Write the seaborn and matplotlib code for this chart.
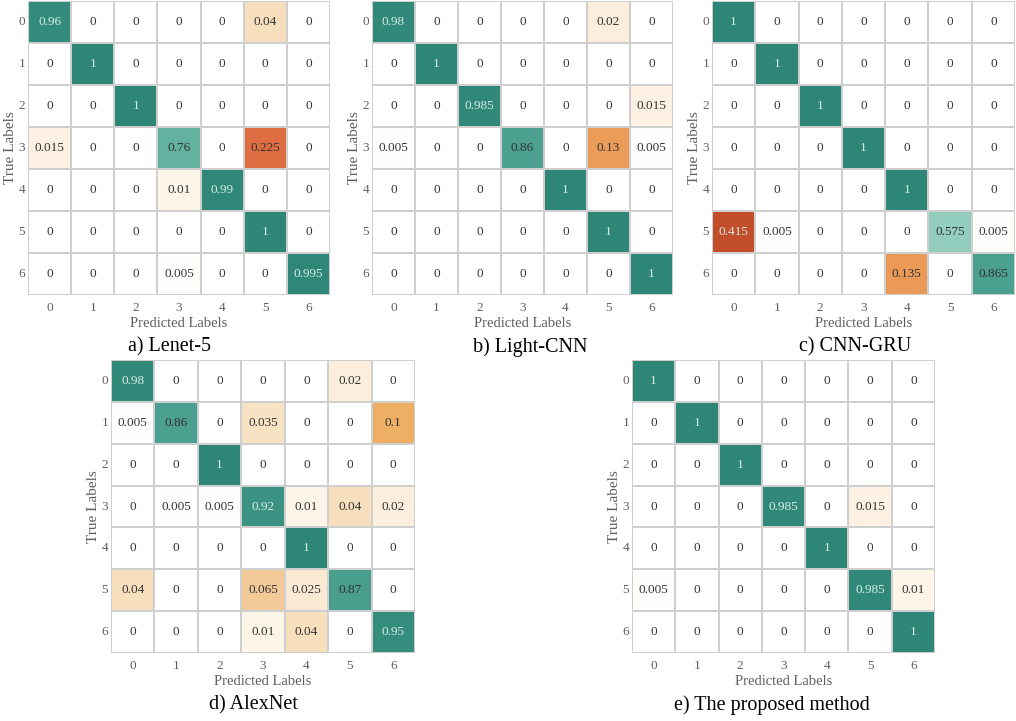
import numpy as np
import pandas as pd
import seaborn as sns
import matplotlib
matplotlib.use("Agg")
import matplotlib.pyplot as plt
from matplotlib.colors import LinearSegmentedColormap, PowerNorm

# ---- data -------------------------------------------------------------
class_labels = ["0", "1", "2", "3", "4", "5", "6"]

lenet5 = [
    [0.96, 0, 0, 0, 0, 0.04, 0],
    [0, 1, 0, 0, 0, 0, 0],
    [0, 0, 1, 0, 0, 0, 0],
    [0.015, 0, 0, 0.76, 0, 0.225, 0],
    [0, 0, 0, 0.01, 0.99, 0, 0],
    [0, 0, 0, 0, 0, 1, 0],
    [0, 0, 0, 0.005, 0, 0, 0.995],
]
light_cnn = [
    [0.98, 0, 0, 0, 0, 0.02, 0],
    [0, 1, 0, 0, 0, 0, 0],
    [0, 0, 0.985, 0, 0, 0, 0.015],
    [0.005, 0, 0, 0.86, 0, 0.13, 0.005],
    [0, 0, 0, 0, 1, 0, 0],
    [0, 0, 0, 0, 0, 1, 0],
    [0, 0, 0, 0, 0, 0, 1],
]
cnn_gru = [
    [1, 0, 0, 0, 0, 0, 0],
    [0, 1, 0, 0, 0, 0, 0],
    [0, 0, 1, 0, 0, 0, 0],
    [0, 0, 0, 1, 0, 0, 0],
    [0, 0, 0, 0, 1, 0, 0],
    [0.415, 0.005, 0, 0, 0, 0.575, 0.005],
    [0, 0, 0, 0, 0.135, 0, 0.865],
]
alexnet = [
    [0.98, 0, 0, 0, 0, 0.02, 0],
    [0.005, 0.86, 0, 0.035, 0, 0, 0.1],
    [0, 0, 1, 0, 0, 0, 0],
    [0, 0.005, 0.005, 0.92, 0.01, 0.04, 0.02],
    [0, 0, 0, 0, 1, 0, 0],
    [0.04, 0, 0, 0.065, 0.025, 0.87, 0],
    [0, 0, 0, 0.01, 0.04, 0, 0.95],
]
proposed = [
    [1, 0, 0, 0, 0, 0, 0],
    [0, 1, 0, 0, 0, 0, 0],
    [0, 0, 1, 0, 0, 0, 0],
    [0, 0, 0, 0.985, 0, 0.015, 0],
    [0, 0, 0, 0, 1, 0, 0],
    [0.005, 0, 0, 0, 0, 0.985, 0.01],
    [0, 0, 0, 0, 0, 0, 1],
]

captions = ["a) Lenet-5", "b) Light-CNN", "c) CNN-GRU",
            "d) AlexNet", "e) The proposed method"]
matrices = [lenet5, light_cnn, cnn_gru, alexnet, proposed]

# ---- style ------------------------------------------------------------
sns.set_theme(style="white")
plt.rcParams["font.family"] = ["Liberation Serif", "DejaVu Serif"]

def rgb(r, g, b):
    return (r / 255, g / 255, b / 255)

teal_cmap = LinearSegmentedColormap.from_list("teal", [
    (0.00, rgb(215, 238, 232)),
    (0.23, rgb(145, 205, 190)),
    (0.56, rgb(100, 178, 160)),
    (0.75, rgb(75, 160, 143)),
    (0.88, rgb(55, 143, 127)),
    (1.00, rgb(46, 134, 119)),
])
orange_cmap = LinearSegmentedColormap.from_list("err", [
    (0.00, rgb(255, 255, 255)),
    (0.11, rgb(255, 254, 252)),
    (0.15, rgb(253, 245, 232)),
    (0.21, rgb(251, 238, 220)),
    (0.30, rgb(247, 222, 188)),
    (0.38, rgb(242, 202, 152)),
    (0.47, rgb(238, 175, 100)),
    (0.54, rgb(235, 155, 88)),
    (0.71, rgb(222, 110, 65)),
    (0.96, rgb(194, 78, 42)),
    (1.00, rgb(190, 72, 38)),
])

GRID = "#cfcfcf"
LABEL_GRAY = "#5e5e5e"
DARK_TEXT = "#333333"
LIGHT_TEXT = "#d6ece6"

fig = plt.figure(figsize=(10.16, 7.21), dpi=100)
W, H = 1016, 721

# axes boxes in pixels: (left, top, right, bottom)
boxes = [
    (28, 1, 330, 295),
    (372, 1, 673, 295),
    (712, 1, 1015, 295),
    (111, 360, 415, 653),
    (632, 360, 935, 653),
]
caption_pos = [(170, 347), (530, 347), (855, 347), (253, 705), (772, 705)]

diag = np.eye(7, dtype=bool)

for mat, cap, box, cpos in zip(matrices, captions, boxes, caption_pos):
    l, t, r, b = box
    ax = fig.add_axes([l / W, 1 - b / H, (r - l) / W, (b - t) / H])
    df = pd.DataFrame(np.array(mat, dtype=float),
                      index=class_labels, columns=class_labels)
    common = dict(annot=True, fmt="g", cbar=False, linewidths=1.3,
                  linecolor=GRID, ax=ax,
                  annot_kws={"fontsize": 9.5})
    sns.heatmap(df, mask=~diag, cmap=teal_cmap, vmin=0.45, vmax=1.0, **common)
    sns.heatmap(df, mask=diag, cmap=orange_cmap,
                norm=PowerNorm(gamma=0.5, vmin=0, vmax=0.45), **common)

    # annotation colours: pale text on the darkest cells
    for txt in ax.texts:
        x, y = txt.get_position()
        row, col = int(y), int(x)
        v = float(txt.get_text())
        on_diag = row == col
        light = (on_diag and v >= 0.9) or (not on_diag and v >= 0.3)
        txt.set_color(LIGHT_TEXT if light else DARK_TEXT)

    ax.tick_params(axis="x", length=0, pad=5, labelsize=9.5,
                   labelcolor=LABEL_GRAY)
    ax.tick_params(axis="y", length=0, pad=2, labelsize=9.5,
                   labelcolor=LABEL_GRAY)
    ax.set_yticklabels(class_labels, rotation=0)
    ax.set_xticklabels(class_labels, rotation=0)
    ax.set_xlabel("Predicted Labels", fontsize=10.5, color=LABEL_GRAY, labelpad=2)
    ax.set_ylabel("True Labels", fontsize=11, color=LABEL_GRAY, labelpad=1)

    fig.text(cpos[0] / W, 1 - cpos[1] / H, cap, ha="center", va="center",
             fontsize=14.5, color="black")

fig.savefig("out.png", dpi=100)
